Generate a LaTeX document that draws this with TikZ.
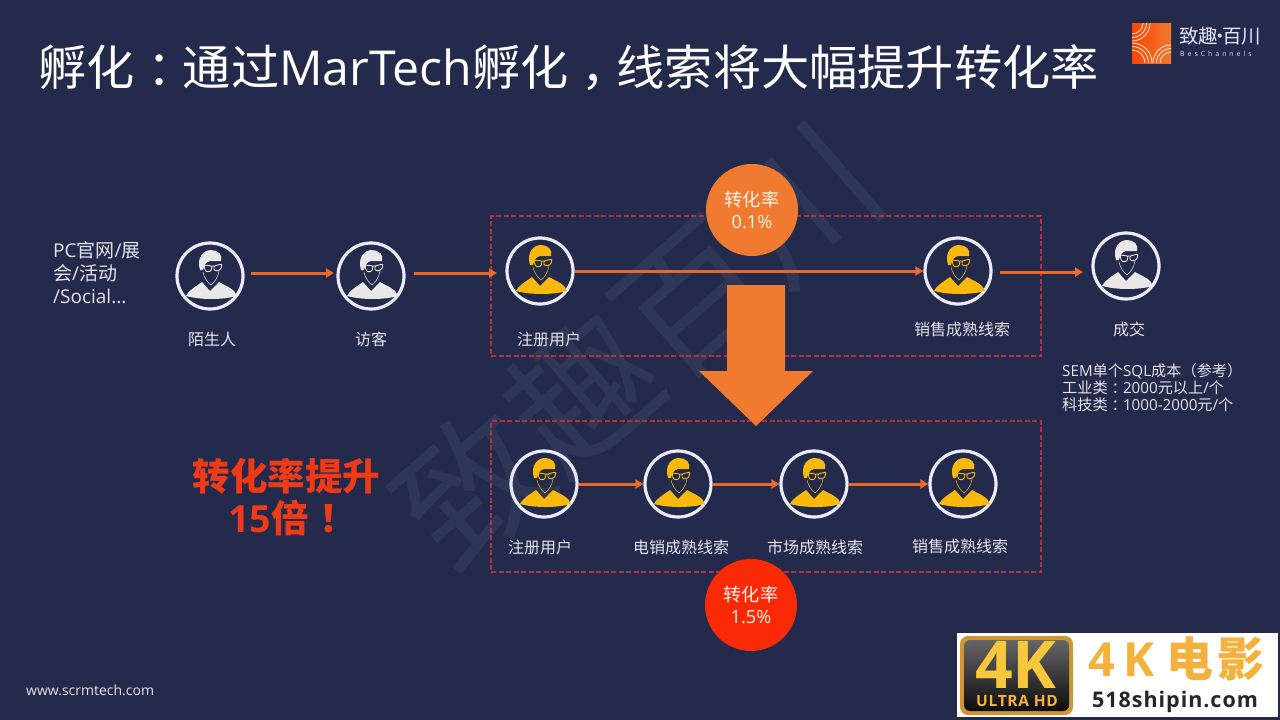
\documentclass[tikz,border=0pt]{standalone}
\usepackage{fontspec}
\setmainfont{Noto Sans CJK SC}
\newfontfamily\la{Open Sans}
\newfontfamily\las[LetterSpace=4.5]{Open Sans}
\newfontfamily\lass[LetterSpace=42]{Open Sans}
\usetikzlibrary{arrows.meta,shapes.geometric}
\definecolor{bg}{HTML}{232A4B}
\definecolor{wm}{HTML}{2F3757}
\definecolor{org}{HTML}{EF7A30}
\definecolor{lin}{HTML}{E8682C}
\definecolor{rd}{HTML}{FB2A06}
\definecolor{gn}{HTML}{EE3A16}
\definecolor{dash}{HTML}{B03240}
\definecolor{txt}{HTML}{E4E4E8}
\definecolor{yel}{HTML}{F8B90C}
\definecolor{pale}{HTML}{E9E8E6}
\definecolor{gold}{HTML}{F4B13C}
\tikzset{
  x=1pt,y=-1pt,
  ring/.style={circle,draw=#1,line width=3.2pt,minimum size=66pt,inner sep=0pt},
  ring/.default={white!92!blue},
  lab/.style={text=txt,font=\fontsize{16}{16}\selectfont,inner sep=0pt},
  flow/.style={draw=lin,line width=3pt,-{Triangle[length=8pt,width=9pt,fill=org]},shorten >=0pt},
  dbox/.style={draw=dash,line width=1.4pt,dash pattern=on 5pt off 2.5pt,inner sep=0pt},
  rate/.style={circle,minimum size=92pt,inner sep=0pt,text=white!92!orange,align=center,font=\fontsize{18.2}{23}\selectfont},
  logoarc/.style={draw=white!85!orange,line width=.8pt},
}
\newcommand{\person}[4]{% name, x, y, colour
  \node[ring] (#1) at (#2,#3) {};
  \begin{scope}[shift={(#2,#3)}]
    \fill[#4] (-24,20) .. controls (-22,15) and (-15,11) .. (-8,6)
      -- (0,15) -- (9,6) .. controls (16,10) and (25,13) .. (27,20)
      .. controls (12,24) and (-9,24) .. (-24,20) -- cycle;
    \fill[#4] (-10,-6) .. controls (-14,-19) and (-6,-26) .. (1,-26)
      .. controls (8,-26) and (13,-21) .. (11,-15) -- (0,-15)
      .. controls (-4,-14) and (-6,-11) .. (-7,-6) -- cycle;
    \draw[#4,line width=.9pt,rounded corners=1pt]
      (-6,-11) -- (2,-10) -- (1,-5) -- (-3,-4) -- (-5,-6) -- cycle
      (2,-10) -- (4,-10)
      (4,-10) -- (12,-12) -- (11,-7) -- (7,-5) -- (4,-6) -- cycle;
    \draw[#4,line width=.5pt] (-7,-4) .. controls (-6,1) and (-3,6) .. (1,9) .. controls (5,6) and (8,1) .. (9,-5);
  \end{scope}
}
\begin{document}
\begin{tikzpicture}
\useasboundingbox (0,0) rectangle (1280,720);
\fill[bg] (0,0) rectangle (1280,720);
% watermark
\node[rotate=41,text=wm,inner sep=0pt,font=\fontsize{145}{145}\selectfont] (wmark) at (637,345) {致趣百川};
% title
\node[anchor=west,text=white,inner sep=0pt,font=\fontsize{48.2}{50}\selectfont] (title) at (38,68)
  {孵化\hspace{.27em}：\hspace{-.27em}通过{\la MarTech}孵化\hspace{.27em}，\hspace{-.27em}线索将大幅提升转化率};
% logo
\shade[left color=rd!70!orange,right color=org] (1132,23) rectangle (1171,63);
\begin{scope}
  \clip (1132,23) rectangle (1171,63);
  \foreach \r in {11,14.5,18}{
    \draw[logoarc] (1132+\r,23) .. controls (1132+\r,23+.55*\r) and (1132+.55*\r,23+\r) .. (1132,23+\r);
    \draw[logoarc] (1171-\r,63) .. controls (1171-\r,63-.55*\r) and (1171-.55*\r,63-\r) .. (1171,63-\r);
  }
  \foreach \r in {13,16.5,20}{
    \draw[logoarc] (1132+\r,63) .. controls (1132+\r,63-.55*\r) and (1132+.55*\r,63-\r) .. (1132,63-\r);
  }
\end{scope}
\node[anchor=west,text=white!90!blue,inner sep=0pt,font=\fontsize{19.5}{20}\selectfont] (logotext) at (1179,36) {致趣\hspace{-.4em}·\hspace{-.4em}百川};
\node[anchor=west,text=white!85!blue,inner sep=0pt,font=\lass\fontsize{7}{7}\selectfont] (logosub) at (1180,53.5) {BesChannels};
% dashed boxes
\node[dbox,minimum width=550pt,minimum height=140pt] (box1) at (766,286) {};
\node[dbox,minimum width=550pt,minimum height=151pt] (box2) at (766,496.5) {};
% big arrow
\fill[org] (727,285) -- (785,285) -- (785,371) -- (813,371) -- (756,426) -- (699,371) -- (727,371) -- cycle;
% circles
\node[rate,fill=org] (r1) at (752,210) {\raisebox{-2pt}{转化率}\\[-1pt]\raisebox{-2pt}{\la 0.1\%}};
\node[rate,fill=rd] (r2) at (751,605) {\raisebox{-1pt}{转化率}\\[-1pt]\raisebox{-1pt}{\la 1.5\%}};
% left text
\node[anchor=north west,align=left,text=txt,inner sep=0pt,font=\fontsize{19}{23}\selectfont] (src) at (53,241) {{\la PC}官网{\la /}展\\会{\la /}活动\\{\la /Social...}};
% persons
\person{a}{210}{276}{pale}
\person{b}{371}{276}{pale}
\person{c}{540}{271}{yel}
\person{d}{958}{271}{yel}
\person{e}{1126}{266}{pale}
\person{f}{544}{484}{yel}
\person{g}{678}{484}{yel}
\person{h}{814}{484}{yel}
\person{i}{963}{484}{yel}
% labels
\node[lab] (la) at (212,339) {陌生人};
\node[lab] (lb) at (371,339) {访客};
\node[lab] (lc) at (549,339) {注册用户};
\node[lab] (ld) at (962,329) {销售成熟线索};
\node[lab] (le) at (1129,329) {成交};
\node[lab] (lf) at (540,547) {注册用户};
\node[lab] (lg) at (681,547) {电销成熟线索};
\node[lab] (lh) at (815,547) {市场成熟线索};
\node[lab] (li) at (960,546) {销售成熟线索};
% connectors
\coordinate (cin) at (497,273);
\coordinate (eout) at (1083,272);
\coordinate (ain) at (334,273);
\coordinate (aout) at (251,273);
\coordinate (bout) at (414,273);
\coordinate (dout) at (1000,272);
\draw[flow] (aout) -- (ain);
\draw[flow] (bout) -- (cin);
\draw[flow] (c) -- (d);
\draw[flow] (dout) -- (eout);
\draw[flow] (f) -- (g);
\draw[flow] (g) -- (h);
\draw[flow] (h) -- (i);
% emphasis
\node[inner sep=0pt,text=gn,font=\bfseries\fontsize{37.5}{44}\selectfont] (gain) at (286.5,476) {转化率提升};
\node[anchor=west,inner sep=0pt,text=gn,font=\bfseries\fontsize{37.5}{44}\selectfont] (gain2) at (228,518) {{\la\bfseries 15}倍\hspace{.3em}！\hspace{-.3em}};
% SEM
\node[anchor=north west,align=left,text=txt,inner sep=0pt,font=\fontsize{15.2}{17}\selectfont] (sem) at (1062,363)
  {{\la SEM}单个{\la SQL}成本（参考）\\工业类\hspace{.25em}：\hspace{-.25em}{\la 2000}元以上{\la /}个\\科技类\hspace{.25em}：\hspace{-.25em}{\la 1000-2000}元{\la /}个};
% url
\node[anchor=west,text=txt,inner sep=0pt,font=\la\fontsize{14}{14}\selectfont] (url) at (26,690) {www.scrmtech.com};
% site stamp
\fill[white] (957,633) rectangle (1278,717);
\fill[gold!85!black,rounded corners=8pt] (960,636) rectangle (1073,715);
\shade[top color=black!60,bottom color=black!95,rounded corners=6pt] (964,640) rectangle (1069,711);
\node[inner sep=0pt,text=yel!80!white,font=\la\bfseries\fontsize{66}{66}\selectfont] (fourk) at (1016,665) {4K};
\node[inner sep=0pt,text=gold,font=\las\bfseries\fontsize{15.5}{16}\selectfont] (uhd) at (1017,701) {ULTRA HD};
\node[anchor=west,inner sep=0pt,text=gold,font=\bfseries\fontsize{47}{47}\selectfont] (film) at (1088,659) {{\la\bfseries 4\hspace{8pt}K}\hspace{12pt}电\hspace{4pt}影};
\node[anchor=west,inner sep=0pt,text=black!85,font=\las\bfseries\fontsize{21.5}{22}\selectfont] (site) at (1092,702) {518shipin.com};
\end{tikzpicture}
\end{document}
